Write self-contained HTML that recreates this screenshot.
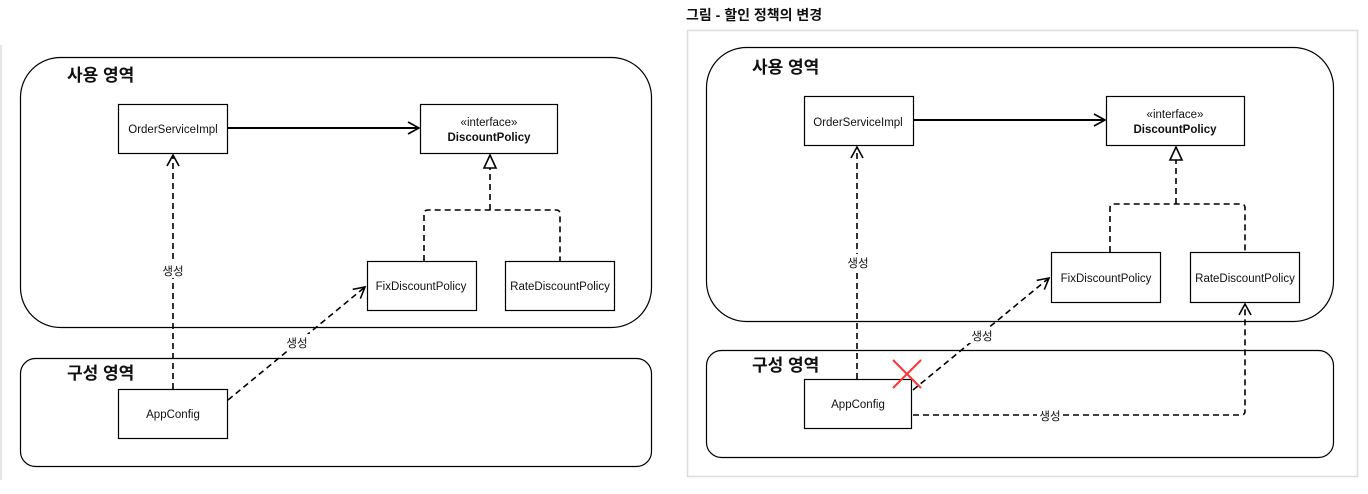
<!DOCTYPE html>
<html><head><meta charset="utf-8"><style>
html,body{margin:0;padding:0;background:#fff;}
svg{display:block;}
text{font-family:"Liberation Sans","Noto Sans CJK KR",sans-serif;fill:#111;}
.t{font-size:17px;font-weight:bold;}
.n{font-size:11.5px;}
</style></head><body>
<svg width="1368" height="494" viewBox="0 0 1368 494" xmlns="http://www.w3.org/2000/svg">
<defs>
<marker id="op" markerWidth="14" markerHeight="14" refX="12" refY="7" orient="auto" markerUnits="userSpaceOnUse">
<path d="M1,1 L12,7 L1,13" fill="none" stroke="#000" stroke-width="1.6"/></marker>
<marker id="tri" markerWidth="16" markerHeight="16" refX="14" refY="8" orient="auto" markerUnits="userSpaceOnUse">
<path d="M1,2 L14,8 L1,14 Z" fill="#fff" stroke="#000" stroke-width="1.6"/></marker>
</defs>
<!-- left frame edge -->
<line x1="1" y1="45" x2="1" y2="480" stroke="#ddd" stroke-width="1.5"/>

<!-- LEFT DIAGRAM -->
<rect x="20.5" y="57.5" width="631" height="270" rx="40" fill="none" stroke="#000" stroke-width="1.2"/>
<rect x="20.5" y="358.5" width="631" height="108" rx="15" fill="none" stroke="#000" stroke-width="1.2"/>
<text class="t" x="67" y="81">사용 영역</text>
<text class="t" x="67" y="379">구성 영역</text>
<g fill="#fff" stroke="#000" stroke-width="1.2">
<rect x="118.5" y="104.5" width="109" height="49"/>
<rect x="420.5" y="104.5" width="137" height="49"/>
<rect x="367.5" y="261.5" width="109" height="49"/>
<rect x="505.5" y="261.5" width="109" height="49"/>
<rect x="118.5" y="389.5" width="109" height="49"/>
</g>
<text class="n" x="173" y="133" text-anchor="middle">OrderServiceImpl</text>
<text class="n" x="489" y="126" text-anchor="middle">«interface»</text>
<text class="n" x="489" y="141" text-anchor="middle" font-weight="bold">DiscountPolicy</text>
<text class="n" x="421" y="290" text-anchor="middle">FixDiscountPolicy</text>
<text class="n" x="560" y="290" text-anchor="middle">RateDiscountPolicy</text>
<text class="n" x="173" y="418" text-anchor="middle">AppConfig</text>
<line x1="228" y1="128" x2="419" y2="128" stroke="#000" stroke-width="2" marker-end="url(#op)"/>
<g fill="none" stroke="#000" stroke-width="1.6" stroke-dasharray="6,4">
<line x1="173" y1="389" x2="173" y2="155" marker-end="url(#op)"/>
<line x1="228" y1="400" x2="365" y2="287" marker-end="url(#op)"/>
<path d="M424,261 V214 Q424,210 428,210 H556 Q560,210 560,214 V261"/>
<line x1="490" y1="210" x2="490" y2="155" marker-end="url(#tri)"/>
</g>
<rect x="160" y="262" width="26" height="16" fill="#fff"/>
<text class="n" x="173" y="275" text-anchor="middle" font-size="12">생성</text>
<rect x="284" y="334" width="26" height="16" fill="#fff"/>
<text class="n" x="297" y="347" text-anchor="middle" font-size="12">생성</text>

<!-- RIGHT DIAGRAM -->
<text x="686" y="20" font-size="14" font-weight="bold">그림 - 할인 정책의 변경</text>
<rect x="687.5" y="30.5" width="670" height="446" fill="none" stroke="#ddd" stroke-width="1.5"/>
<rect x="706.5" y="47.5" width="627" height="274" rx="40" fill="none" stroke="#000" stroke-width="1.2"/>
<rect x="706.5" y="350.5" width="627" height="107" rx="15" fill="none" stroke="#000" stroke-width="1.2"/>
<text class="t" x="752" y="73">사용 영역</text>
<text class="t" x="752" y="371">구성 영역</text>
<g fill="#fff" stroke="#000" stroke-width="1.2">
<rect x="804.5" y="96.5" width="109" height="49"/>
<rect x="1106.5" y="96.5" width="138" height="49"/>
<rect x="1051.5" y="252.5" width="109" height="50"/>
<rect x="1190.5" y="252.5" width="109" height="50"/>
<rect x="804.5" y="379.5" width="107" height="49"/>
</g>
<text class="n" x="858" y="126" text-anchor="middle">OrderServiceImpl</text>
<text class="n" x="1175" y="118" text-anchor="middle">«interface»</text>
<text class="n" x="1175" y="133" text-anchor="middle" font-weight="bold">DiscountPolicy</text>
<text class="n" x="1106" y="282" text-anchor="middle">FixDiscountPolicy</text>
<text class="n" x="1245" y="282" text-anchor="middle">RateDiscountPolicy</text>
<text class="n" x="858" y="408" text-anchor="middle">AppConfig</text>
<line x1="914" y1="120" x2="1105" y2="120" stroke="#000" stroke-width="2" marker-end="url(#op)"/>
<g fill="none" stroke="#000" stroke-width="1.6" stroke-dasharray="6,4">
<line x1="857" y1="379" x2="857" y2="147" marker-end="url(#op)"/>
<line x1="913" y1="390" x2="1049" y2="278" marker-end="url(#op)"/>
<path d="M1110,252 V208 Q1110,204 1114,204 H1241 Q1245,204 1245,208 V252"/>
<line x1="1176" y1="204" x2="1176" y2="147" marker-end="url(#tri)"/>
<path d="M913,415 H1241 Q1245,415 1245,411 V304" marker-end="url(#op)"/>
</g>
<rect x="845" y="254" width="26" height="16" fill="#fff"/>
<text class="n" x="858" y="267" text-anchor="middle" font-size="12">생성</text>
<rect x="969" y="327" width="26" height="16" fill="#fff"/>
<text class="n" x="982" y="340" text-anchor="middle" font-size="12">생성</text>
<rect x="1037" y="407" width="26" height="16" fill="#fff"/>
<text class="n" x="1050" y="420" text-anchor="middle" font-size="12">생성</text>
<g stroke="#f33" stroke-width="2">
<line x1="893" y1="360" x2="921" y2="388"/>
<line x1="921" y1="360" x2="893" y2="388"/>
</g>
</svg>
</body></html>
